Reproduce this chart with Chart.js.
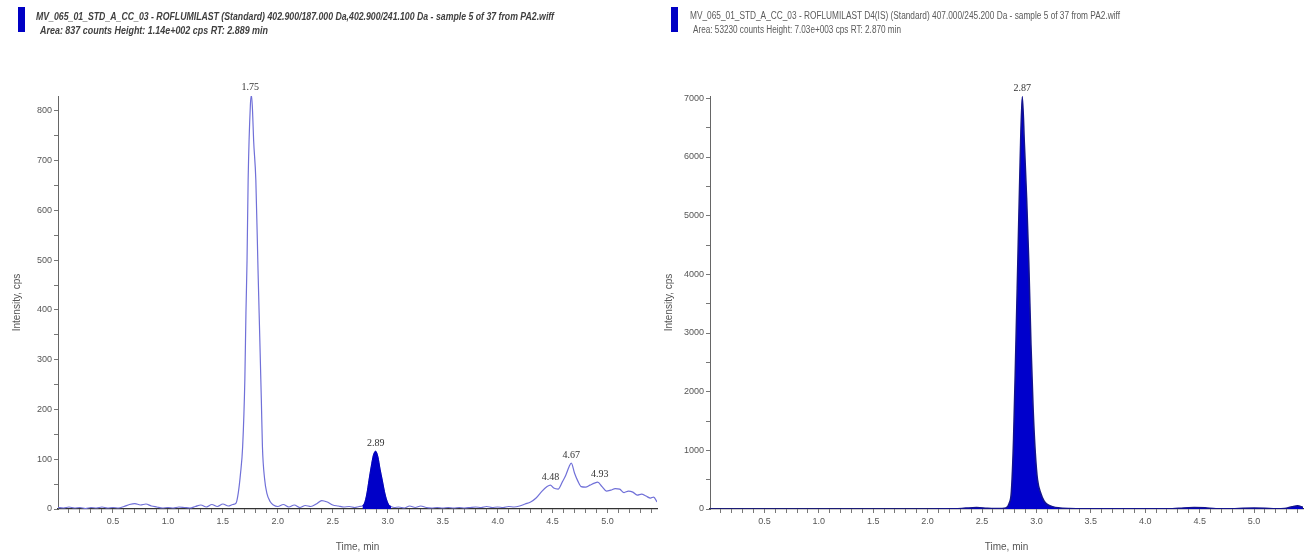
<!DOCTYPE html>
<html><head><meta charset="utf-8">
<script src="https://cdn.jsdelivr.net/npm/chart.js@4.4.1/dist/chart.umd.min.js"></script>
<style>
html,body{margin:0;padding:0;background:#fff;width:1304px;height:554px;overflow:hidden;position:relative;font-family:"Liberation Sans Narrow","Liberation Sans",sans-serif;}
.box{position:absolute;top:0;height:554px;}
#lbox{left:0;width:660px;}
#rbox{left:650px;width:654px;}
.mark{position:absolute;background:#0000c4;}
.hdr{position:absolute;white-space:nowrap;transform-origin:0 0;line-height:1;}
</style></head><body>
<div class="box" id="lbox"><canvas id="left"></canvas></div>
<div class="box" id="rbox"><canvas id="right"></canvas></div>
<div class="mark" style="left:18px;top:7px;width:7px;height:25px"></div>
<div class="mark" style="left:671px;top:7px;width:7px;height:25px"></div>
<div class="hdr" id="lh1" data-w="518" style="left:36px;top:11px;font-size:11px;font-style:italic;font-weight:bold;color:#404040">MV_065_01_STD_A_CC_03 - ROFLUMILAST (Standard) 402.900/187.000 Da,402.900/241.100 Da - sample 5 of 37 from PA2.wiff</div>
<div class="hdr" id="lh2" data-w="228" style="left:40px;top:25px;font-size:11px;font-style:italic;font-weight:bold;color:#404040">Area: 837 counts Height: 1.14e+002 cps RT: 2.889 min</div>
<div class="hdr" id="rh1" data-w="430" style="left:690px;top:11px;font-size:10px;color:#5a5a5a">MV_065_01_STD_A_CC_03 - ROFLUMILAST D4(IS) (Standard) 407.000/245.200 Da - sample 5 of 37 from PA2.wiff</div>
<div class="hdr" id="rh2" data-w="208" style="left:693px;top:25px;font-size:10px;color:#5a5a5a">Area: 53230 counts Height: 7.03e+003 cps RT: 2.870 min</div>
<script>
// ---------- data ----------
const leftTime = [0.00,0.05,0.10,0.15,0.20,0.25,0.30,0.35,0.40,0.45,0.50,0.55,0.60,0.65,0.70,0.75,0.80,0.85,0.90,0.95,
  1.00,1.05,1.10,1.15,1.20,1.25,1.30,1.35,1.40,1.45,1.50,1.55,1.59,1.62,1.64,1.66,1.68,1.70,1.71,1.72,1.73,1.75,1.76,1.77,1.78,
  1.80,1.82,1.83,1.85,1.86,1.88,1.90,1.93,1.96,2.00,2.05,2.10,2.15,2.20,2.25,2.30,2.35,2.40,2.45,2.50,2.55,2.60,2.65,2.70,2.74,
  2.77,2.79,2.81,2.83,2.85,2.87,2.89,2.91,2.93,2.95,2.97,2.99,3.01,3.03,3.06,3.10,3.15,3.20,3.25,3.30,3.35,3.40,3.45,3.50,
  3.55,3.60,3.65,3.70,3.75,3.80,3.85,3.90,3.95,4.00,4.05,4.10,4.15,4.20,4.25,4.30,4.35,4.40,4.45,4.48,4.51,4.55,4.59,4.62,
  4.65,4.67,4.70,4.73,4.76,4.80,4.84,4.88,4.91,4.95,4.99,5.03,5.07,5.11,5.15,5.19,5.23,5.27,5.31,5.35,5.39,5.42,5.45];
const leftIntensity = [3,2,4,2,3,1,3,2,4,2,3,2,5,9,11,8,10,6,4,2,
  3,2,4,3,2,5,8,4,9,5,10,6,9,12,32,70,125,260,394,500,661,810,832,800,740,
  661,480,394,220,125,60,32,15,8,5,9,4,8,3,7,5,10,17,14,8,6,4,5,3,5,
  6,12,30,58,85,108,116,105,80,58,35,18,8,5,3,4,2,6,3,6,3,2,3,2,
  3,2,3,2,3,4,3,5,3,4,3,5,4,6,10,14,22,35,45,48,42,40,55,68,
  85,92,72,56,45,44,48,52,54,45,36,38,41,40,33,36,34,28,30,26,22,24,14];
const leftPeakStart = 2.77, leftPeakEnd = 3.03;          // integrated (filled) peak
const leftPeakRT = [1.75, 2.89, 4.48, 4.67, 4.93];
const leftYTicks = [0,100,200,300,400,500,600,700,800];

const rightTime = [0.00,0.25,0.50,0.75,1.00,1.25,1.50,1.75,2.00,2.25,2.35,2.45,2.55,2.62,2.68,2.72,2.75,2.77,2.79,2.81,
  2.83,2.85,2.87,2.89,2.91,2.93,2.95,2.97,2.99,3.01,3.04,3.07,3.10,3.15,3.20,3.30,3.50,3.75,4.00,4.25,4.35,4.45,4.55,
  4.65,4.80,4.90,5.00,5.10,5.20,5.28,5.35,5.40,5.45];
const rightIntensity = [2,1,2,1,2,1,2,1,2,3,15,25,12,8,10,20,100,300,1200,2700,
  4300,5900,7030,6200,5300,4200,2800,1700,950,500,270,140,80,40,20,8,4,3,3,4,18,24,20,
  5,4,14,18,14,5,10,40,55,30];
const rightPeakRT = [2.87];
const rightYTicks = [0,1000,2000,3000,4000,5000,6000,7000];

const xTickLabels = [0.5,1.0,1.5,2.0,2.5,3.0,3.5,4.0,4.5,5.0];
const timeMax = 5.45;

// ---------- helpers ----------
function pts(t, v){ return t.map((x,i)=>({x:x, y:v[i]})); }
function minorTicks(step, max){ const a=[]; for(let v=step; v<=max+1e-9; v+=step) a.push(+v.toFixed(3)); return a; }
const isMajorX = v => xTickLabels.some(m => Math.abs(m - v) < 1e-6);

function peakLabelPlugin(times, values, rts){
  return {
    id: 'peakLabels',
    afterDatasetsDraw(chart){
      const {ctx, scales:{x, y}} = chart;
      ctx.save();
      ctx.font = '10px "Liberation Serif", serif';
      ctx.fillStyle = '#333';
      ctx.textAlign = 'center';
      ctx.textBaseline = 'bottom';
      rts.forEach(rt => {
        let best = 0;
        times.forEach((t,i)=>{ if (Math.abs(t-rt) <= 0.035 && values[i] > best) best = values[i]; });
        ctx.fillText(rt.toFixed(2), x.getPixelForValue(rt), y.getPixelForValue(best) - 3);
      });
      ctx.restore();
    }
  };
}

const tickFont = {family:'"Liberation Sans Narrow","Liberation Sans",sans-serif', size:9};
const titleFont = {family:'"Liberation Sans Narrow","Liberation Sans",sans-serif', size:10};

function makeChart(id, datasets, yMax, yMajor, yMinorStep, yWidth, titlePad, rightPad, plugin){
  return new Chart(document.getElementById(id), {
    type: 'line',
    data: { datasets },
    options: {
      responsive: true, maintainAspectRatio: false, animation: false,
      layout: { padding: { top: 96, right: rightPad, left: 0, bottom: 0 } },
      plugins: { legend: {display:false}, tooltip: {enabled:false} },
      elements: { point: { radius: 0 } },
      scales: {
        x: {
          type: 'linear', min: 0, max: timeMax,
          afterBuildTicks: s => { s.ticks = minorTicks(0.1, timeMax).map(v=>({value:v})); },
          afterFit: s => { s.height = 45; },
          ticks: { autoSkip:false, maxRotation:0, padding:3, color:'#555', font:tickFont,
                   callback: v => isMajorX(v) ? v.toFixed(1) : '' },
          grid: { drawOnChartArea:false, tickLength:4, color:'#777' },
          border: { color:'#333', width:1.2 },
          title: { display:true, text:'Time, min', color:'#555', font:titleFont, padding:{top:0,bottom:1} }
        },
        y: {
          type: 'linear', min: 0, max: yMax,
          afterBuildTicks: s => { s.ticks = minorTicks(yMinorStep, yMax).concat([0]).sort((a,b)=>a-b).map(v=>({value:v})); },
          afterFit: s => { s.width = yWidth; },
          ticks: { autoSkip:false, padding:2, color:'#555', font:tickFont,
                   callback: v => yMajor.includes(v) ? String(v) : '' },
          grid: { drawOnChartArea:false, tickLength:4, color:'#777' },
          border: { color:'#666', width:1 },
          title: { display:true, text:'Intensity, cps', color:'#555', font:titleFont, padding:{top:titlePad,bottom:0} }
        }
      }
    },
    plugins: [plugin]
  });
}

const leftAll = pts(leftTime, leftIntensity);
const leftPeak = leftAll.filter(p => p.x >= leftPeakStart && p.x <= leftPeakEnd);

makeChart('left', [
  { data: leftPeak, borderColor:'#0000b8', backgroundColor:'#0000c8', borderWidth:1, fill:'origin', cubicInterpolationMode:'monotone' },
  { data: leftAll, borderColor:'#7070d8', borderWidth:1.2, fill:false, cubicInterpolationMode:'monotone' }
], 830, leftYTicks, 50, 58, 11, 3, peakLabelPlugin(leftTime, leftIntensity, leftPeakRT));

makeChart('right', [
  { data: pts(rightTime, rightIntensity), borderColor:'#14148c', backgroundColor:'#0000cc', borderWidth:1.5, fill:'origin', cubicInterpolationMode:'monotone' }
], 7040, rightYTicks, 500, 60, 13, 1, peakLabelPlugin(rightTime, rightIntensity, rightPeakRT));

// fit header lines to their measured widths
document.querySelectorAll('.hdr').forEach(el => {
  const w = +el.dataset.w; const cur = el.getBoundingClientRect().width;
  if (cur > 0) el.style.transform = 'scaleX(' + (w/cur) + ')';
});
</script>
</body></html>
